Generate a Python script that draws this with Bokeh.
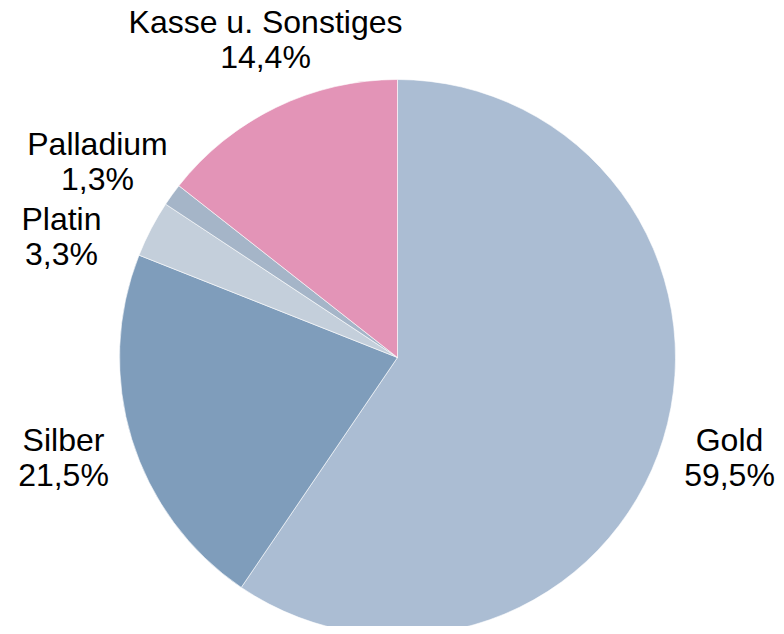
import math
from bokeh.plotting import figure
from bokeh.models import Range1d, ColumnDataSource
from bokeh.core.properties import value
from bokeh.embed import file_html
from bokeh.resources import INLINE

categories = ["Gold", "Silber", "Platin", "Palladium", "Kasse u. Sonstiges"]
shares = [59.5, 21.5, 3.3, 1.3, 14.4]
colors = ["#ABBDD3", "#7F9DBB", "#C4CFDB", "#A5B5C8", "#E394B7"]

# label anchor positions (page pixel coordinates, y downwards)
label_x = [729, 63, 61, 97, 265]
label_y = [457, 457, 236, 161, 39]

cx, cy, r = 397, 357, 278
W, H = 776, 626

total = sum(shares)
starts, ends = [], []
acc = 0.0
for s in shares:
    starts.append(math.pi / 2 - 2 * math.pi * acc / total)
    acc += s
    ends.append(math.pi / 2 - 2 * math.pi * acc / total)

src = ColumnDataSource(dict(
    cat=categories, share=shares, color=colors,
    start=starts, end=ends,
    x=[cx] * len(shares), y=[-cy] * len(shares),
))

p = figure(width=W, height=H, output_backend="svg", toolbar_location=None,
           x_range=Range1d(0, W), y_range=Range1d(-H, 0),
           min_border=0, outline_line_color=None)
p.axis.visible = False
p.grid.visible = False
p.background_fill_color = "white"
p.border_fill_color = "white"

p.wedge(x="x", y="y", radius=r, start_angle="start", end_angle="end",
        direction="clock", fill_color="color", line_color="white",
        line_width=0.6, source=src)

texts = [c + "\n" + f"{s:.1f}".replace(".", ",") + "%" for c, s in zip(categories, shares)]
lsrc = ColumnDataSource(dict(x=label_x, y=[-v for v in label_y], t=texts))
p.text(x="x", y="y", text="t", source=lsrc, text_align="center",
       text_baseline="middle", text_font=value("Liberation Sans"),
       text_font_size="32px", text_color="black", text_line_height=0.98)

open("out.html", "w").write(file_html(p, INLINE))
